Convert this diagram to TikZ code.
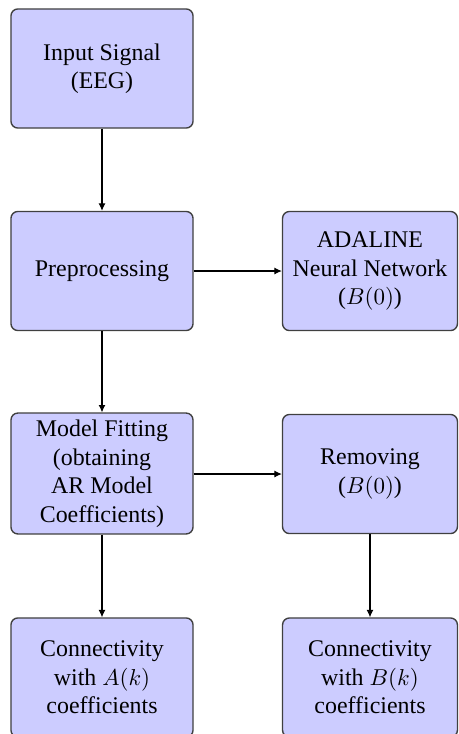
\documentclass[tikz,border=0pt]{standalone}
\usepackage{fontspec}
\setmainfont{Liberation Serif}
\usetikzlibrary{arrows.meta}
\begin{document}
\begin{tikzpicture}[
  x=0.435pt, y=-0.435pt,
  box/.style={draw=black!75, line width=0.6pt, fill=blue!20, rounded corners=3pt,
    align=center, font=\fontsize{10.4}{12.4}\selectfont, inner sep=1pt},
  lbox/.style={box, minimum width=79.2pt, minimum height=51.8pt},
  rbox/.style={box, minimum width=76.1pt, minimum height=51.8pt},
  flow/.style={-{Latex[length=3.2pt,width=3pt]}, line width=0.45pt, black}
]
\useasboundingbox (0,0) rectangle (459,734);
\fill[white] (0,0) rectangle (459,734);

\node[lbox] (input) at (102,68.5) {Input Signal\\(EEG)};
\node[lbox] (pre) at (102,271) {Preprocessing};
\node[rbox] (ada) at (370,271) {ADALINE\\Neural Network\\($B(0)$)};
\node[lbox, minimum height=52.6pt] (fit) at (102,473.5) {Model Fitting\\(obtaining\\AR Model\\Coefficients)};
\node[rbox] (rem) at (370,474) {Removing\\($B(0)$)};
\node[lbox] (conA) at (102,677.5) {Connectivity\\with $A(k)$\\coefficients};
\node[rbox] (conB) at (370,677.5) {Connectivity\\with $B(k)$\\coefficients};

\draw[flow] (input) -- (pre);
\draw[flow] (pre) -- (ada);
\draw[flow] (pre) -- (fit);
\draw[flow] (fit.east |- rem) -- (rem);
\draw[flow] (fit) -- (conA);
\draw[flow] (rem) -- (conB);
\end{tikzpicture}
\end{document}
